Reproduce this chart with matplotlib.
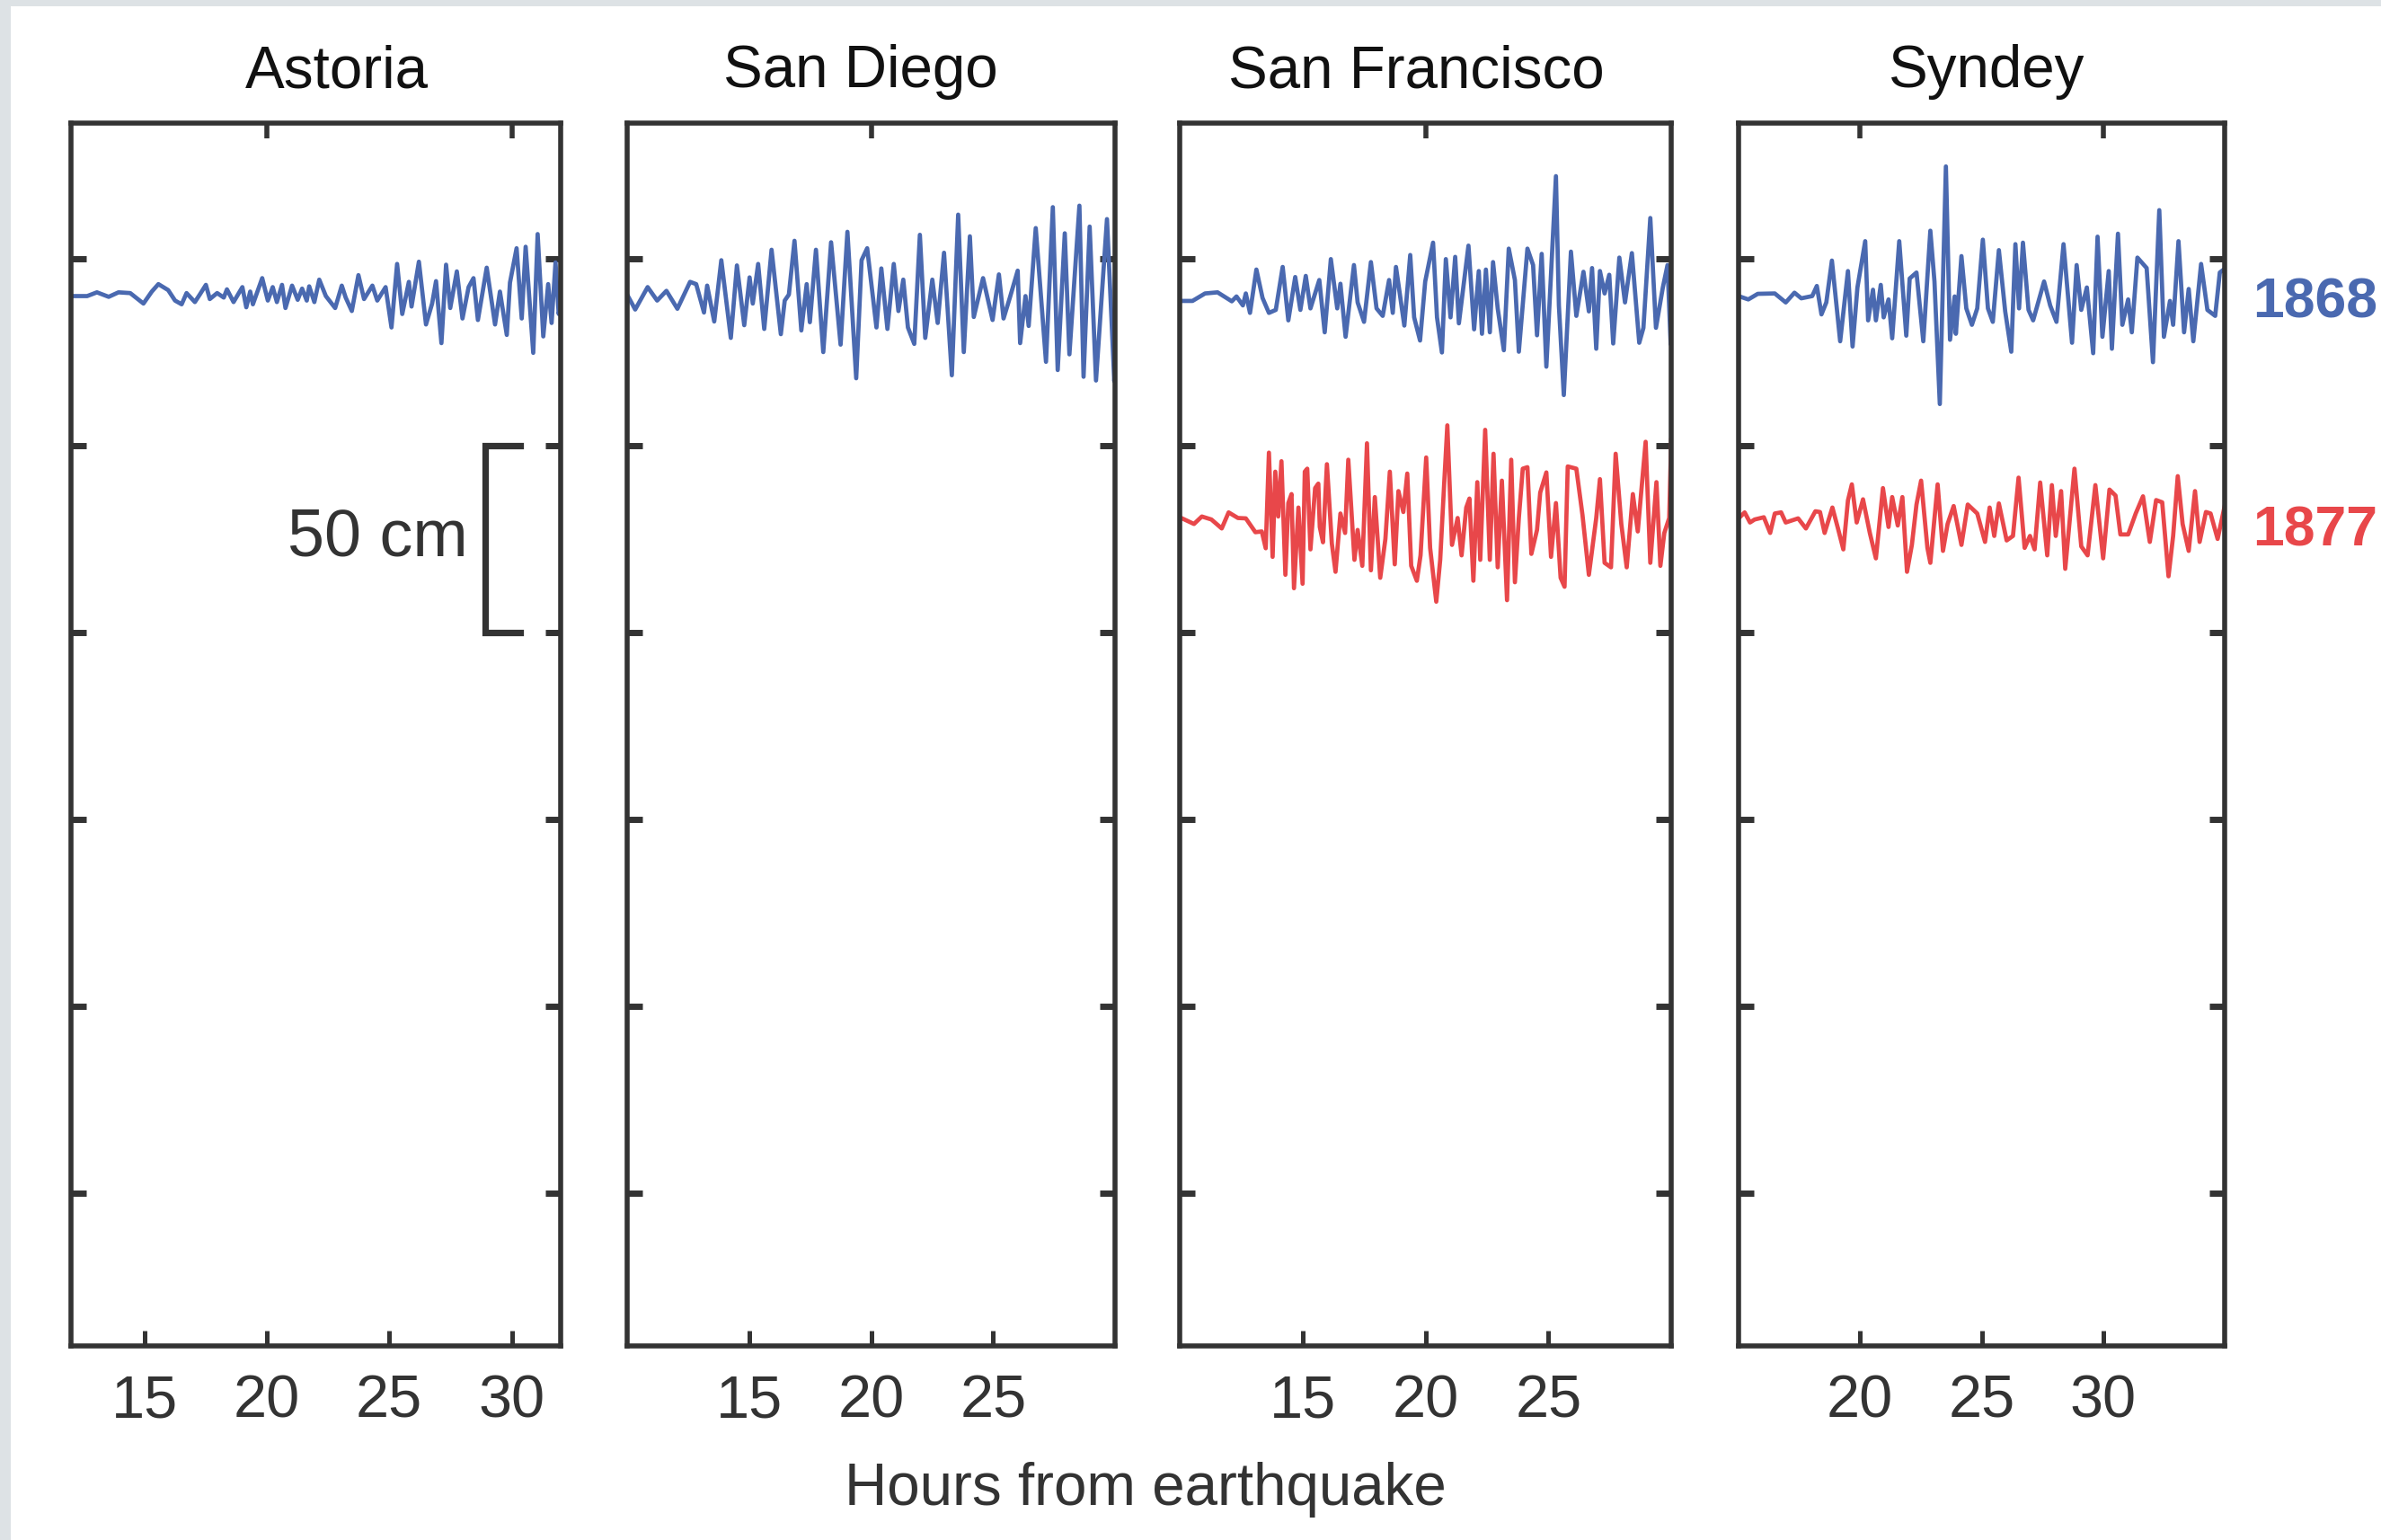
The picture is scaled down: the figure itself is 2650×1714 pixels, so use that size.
import numpy as np
import matplotlib
matplotlib.use('Agg')
import matplotlib.pyplot as plt
from matplotlib.patches import Rectangle

plt.rcParams['font.family'] = ['Liberation Sans', 'DejaVu Sans']

# ---- datos ----
stations = ['Astoria', 'San Diego', 'San Francisco', 'Syndey']
xlims = [(12, 32), (10, 30), (10, 30), (15, 35)]
xticks_bottom = [[15, 20, 25, 30], [15, 20, 25], [15, 20, 25], [20, 25, 30]]
xticks_top = [[20, 30], [20], [20], [20, 30]]
yticks = [0, -50, -100, -150, -200, -250]
years = ['1868', '1877']
offset_1868 = -10  # cm, posicion de cada registro en la pagina
offset_1877 = -70
scale_cm = 50

# (hora, nivel en cm) - 1868
astoria_1868 = [(12.0, 0), (12.66, 0), (13.06, 1), (13.54, -0.2), (13.94, 1), (14.42, 0.8), (14.96, -2),
                (15.30, 1.2), (15.57, 3.2), (15.97, 1.6), (16.25, -1.2), (16.52, -2.2), (16.72, 0.8),
                (17.06, -1.6), (17.26, 0.4), (17.51, 3), (17.67, -0.8), (17.97, 0.8), (18.24, -0.4),
                (18.37, 1.8), (18.64, -1.6), (19.0, 2.4), (19.16, -3), (19.32, 1.2), (19.43, -2.2),
                (19.81, 4.8), (20.04, -1.2), (20.24, 2.4), (20.41, -1.6), (20.62, 3), (20.76, -3.2),
                (21.03, 2.8), (21.26, -1), (21.44, 2), (21.63, -1.2), (21.73, 2.6), (21.94, -1.6),
                (22.14, 4.4), (22.41, 0), (22.79, -3.2), (23.06, 2.8), (23.22, -0.4), (23.47, -4),
                (23.74, 5.6), (23.97, -0.8), (24.31, 2.8), (24.51, -1.2), (24.85, 2.4), (25.09, -8.4),
                (25.32, 8.6), (25.53, -4.8), (25.8, 3.8), (25.91, -2.8), (26.21, 9.2), (26.5, -7.6),
                (26.75, -2), (26.91, 4), (27.13, -12.6), (27.32, 8.4), (27.49, -3.2), (27.76, 6.6),
                (27.99, -6), (28.24, 2.4), (28.44, 4.8), (28.62, -6.4), (28.98, 7.6), (29.32, -7.6),
                (29.52, 1.2), (29.8, -10.4), (29.93, 3.6), (30.2, 12.8), (30.41, -6), (30.57, 13.2),
                (30.88, -15.2), (31.06, 16.6), (31.29, -10.8), (31.49, 3.2), (31.63, -7.2), (31.79, 9),
                (31.92, -4.8), (32.0, -2)]

san_diego_1868 = [(10.0, 0.4), (10.33, -3.6), (10.84, 2.4), (11.23, -1.2), (11.61, 1.4), (12.06, -3.4),
                  (12.58, 3.8), (12.83, 3.2), (13.15, -4.4), (13.28, 2.8), (13.57, -6.8), (13.86, 9.6),
                  (14.25, -11.2), (14.5, 8.2), (14.8, -7.8), (15.02, 5), (15.15, -2), (15.37, 8.6),
                  (15.62, -8.8), (15.92, 12.4), (16.3, -10.2), (16.46, -1.2), (16.63, 0.4), (16.86, 14.8),
                  (17.14, -9.2), (17.36, 3.2), (17.49, -7), (17.74, 12.4), (18.04, -15), (18.36, 14.4),
                  (18.75, -13), (19.03, 17.2), (19.39, -22), (19.61, 9.6), (19.84, 12.8), (20.22, -8.4),
                  (20.42, 7.4), (20.67, -8.8), (20.93, 8.6), (21.12, -4), (21.32, 4.4), (21.51, -8.4),
                  (21.77, -12.8), (22.0, 16.4), (22.22, -11.2), (22.51, 4.4), (22.73, -7.2), (22.99, 11.6),
                  (23.31, -21.2), (23.57, 21.8), (23.8, -15), (24.05, 16), (24.21, -5.6), (24.59, 4.8),
                  (24.98, -6.4), (25.24, 5.8), (25.43, -6), (25.69, -0.4), (26.01, 6.8), (26.11, -12.6),
                  (26.33, 0), (26.46, -8), (26.75, 18.2), (27.17, -17.6), (27.45, 23.8), (27.65, -19.8),
                  (27.94, 16.8), (28.13, -15.6), (28.54, 24.2), (28.71, -21.6), (28.96, 18.6),
                  (29.22, -22.6), (29.67, 20.6), (29.97, -22.8), (30.0, -18.4)]

san_francisco_1868 = [(10.0, -1.3), (10.52, -1.3), (11.03, 0.7), (11.54, 1), (12.12, -1.4), (12.31, -0.1),
                      (12.57, -2.5), (12.69, 0.7), (12.86, -4.5), (13.12, 7.1), (13.37, -0.5), (13.63, -4.5),
                      (13.91, -3.7), (14.19, 7.8), (14.42, -6.5), (14.70, 5.1), (14.91, -3.7), (15.13, 5.4),
                      (15.32, -3.3), (15.68, 4.3), (15.90, -9.7), (16.15, 9.9), (16.41, -3.3), (16.54, 3.3),
                      (16.75, -10.9), (17.09, 8.3), (17.24, -1.7), (17.50, -6.9), (17.78, 9.1), (18.01, -3.3),
                      (18.26, -5.3), (18.52, 4.3), (18.67, -4.5), (18.80, 7.8), (19.14, -7.9), (19.38, 11),
                      (19.54, -5.7), (19.78, -11.9), (19.99, 3.9), (20.31, 14.3), (20.47, -5.7), (20.67, -15.1),
                      (20.83, 9.9), (21.02, -5.7), (21.21, 10.5), (21.36, -7.3), (21.75, 13.5), (21.98, -8.9),
                      (22.17, 6.7), (22.30, -10.1), (22.46, 7.1), (22.62, -9.7), (22.75, 9.1), (22.94, -3.3),
                      (23.19, -14.5), (23.39, 12.7), (23.64, 4.3), (23.80, -14.9), (24.15, 12.7), (24.38, 8.3),
                      (24.54, -10.5), (24.73, 11.3), (24.92, -18.9), (25.31, 32.1), (25.43, -2.5),
                      (25.63, -26.5), (25.92, 11.9), (26.14, -5.3), (26.43, 6.5), (26.65, -4.1), (26.78, 7.5),
                      (26.95, -14.1), (27.10, 6.7), (27.29, 0.7), (27.48, 5.7), (27.64, -12.7), (27.89, 10.3),
                      (28.12, -1.7), (28.40, 11.5), (28.70, -12.5), (28.87, -8.5), (29.15, 20.9), (29.38, -8.5),
                      (29.66, 2.3), (29.85, 8.3), (29.98, -12.9), (30.0, -5.5)]

sydney_1868 = [(15.0, 0), (15.40, -0.9), (15.79, 0.6), (16.49, 0.7), (16.94, -1.7), (17.3, 0.9), (17.58, -0.6),
               (18.03, 0), (18.22, 2.7), (18.41, -4.9), (18.61, -1.7), (18.84, 9.5), (19.18, -12.1), (19.5, 6.7),
               (19.69, -13.5), (19.89, 2.3), (20.21, 14.7), (20.33, -6.5), (20.53, 1.7), (20.65, -6.5),
               (20.85, 3), (20.97, -5.7), (21.17, -0.9), (21.32, -11.3), (21.61, 14.7), (21.9, -10.6),
               (22.04, 4.7), (22.32, 6.3), (22.6, -12.1), (22.89, 17.5), (23.06, 3.9), (23.28, -28.9),
               (23.53, 34.7), (23.7, -11.7), (23.89, -0.1), (23.94, -10.1), (24.17, 10.7), (24.37, -3.3),
               (24.6, -7.7), (24.82, -3.3), (25.05, 15.1), (25.26, -3.3), (25.46, -6.9), (25.71, 12.3),
               (25.97, -4.1), (26.22, -14.9), (26.39, 13.9), (26.54, -3.3), (26.7, 14.3), (26.93, -3.7),
               (27.12, -6.5), (27.57, 3.9), (27.82, -2.5), (28.08, -6.9), (28.37, 13.9), (28.72, -12.5),
               (28.91, 8.3), (29.10, -3.7), (29.33, 2.3), (29.59, -15.3), (29.77, 15.9), (29.97, -10.9),
               (30.23, 6.7), (30.36, -14.1), (30.61, 16.7), (30.79, -7.7), (31.03, -0.9), (31.18, -9.7),
               (31.41, 10.3), (31.79, 7.5), (32.05, -17.7), (32.31, 23), (32.5, -10.9), (32.75, -1.3),
               (32.88, -7.7), (33.1, 14.7), (33.33, -9.7), (33.52, 1.9), (33.71, -12.1), (34.03, 8.6),
               (34.29, -3.7), (34.61, -5.3), (34.8, 6.3), (35.0, 7.3)]

# (hora, nivel en cm) - 1877
san_francisco_1877 = [(10.0, 0.8), (10.58, -1), (10.9, 1), (11.29, 0.2), (11.71, -2.2), (11.99, 2.1), (12.37, 0.6),
                      (12.69, 0.5), (13.08, -3.2), (13.34, -3), (13.5, -7.5), (13.63, 18.1), (13.78, -9.8),
                      (13.89, 13), (14.01, 1), (14.14, 15.8), (14.30, -14.6), (14.42, 4.6), (14.55, 7),
                      (14.65, -18.2), (14.83, 3.4), (15.0, -17), (15.09, 13), (15.19, 13.8), (15.32, -7.8),
                      (15.51, 8.6), (15.64, 9.8), (15.70, -1.8), (15.83, -5.9), (15.99, 15), (16.19, -6.2),
                      (16.34, -13.8), (16.54, 1.8), (16.73, -3.4), (16.86, 16.2), (17.11, -10.6), (17.24, -2.6),
                      (17.43, -12.2), (17.62, 20.6), (17.78, -13.4), (17.94, 6.2), (18.16, -15.4), (18.37, -5),
                      (18.55, 13), (18.75, -11.8), (18.90, 7.8), (19.10, 2.2), (19.26, 12.5), (19.42, -12.2),
                      (19.65, -16.2), (19.8, -9.4), (20.03, 16.8), (20.19, -7.4), (20.44, -21.8), (20.60, -10.6),
                      (20.76, 9.6), (20.89, 25.4), (21.08, -6.6), (21.31, 0.6), (21.47, -9.4), (21.66, 3.4),
                      (21.79, 5.8), (21.95, -16.2), (22.11, 10.2), (22.23, -10.6), (22.43, 24.2), (22.62, -10.6),
                      (22.77, 17.8), (22.94, -12.6), (23.11, 10.6), (23.32, -21.4), (23.49, 16.2), (23.64, -16.6),
                      (23.8, 0.6), (23.96, 13.8), (24.15, 14.2), (24.31, -9), (24.54, -2.6), (24.67, 7.4),
                      (24.92, 12.8), (25.11, -9.8), (25.31, 4.6), (25.5, -15.4), (25.66, -17.8), (25.79, 14.4),
                      (26.14, 13.8), (26.39, 1.4), (26.65, -14.6), (26.95, 0.6), (27.1, 11), (27.29, -11.4),
                      (27.55, -12.6), (27.74, 17.8), (27.97, -1), (28.19, -12.6), (28.44, 7), (28.64, -3),
                      (28.96, 21), (29.15, -11.4), (29.4, 10.2), (29.56, -12.2), (29.72, -3.4), (29.92, 0.6),
                      (30.0, 21.4)]

sydney_1877 = [(15.0, 0.5), (15.25, 2.1), (15.47, -0.6), (15.66, 0.2), (16.04, 0.8), (16.3, -3.4), (16.49, 1.8),
               (16.75, 2.1), (16.94, -0.6), (17.45, 0.5), (17.77, -2.2), (18.16, 2.4), (18.35, 2.2),
               (18.54, -3.4), (18.86, 3.4), (19.09, -2.2), (19.31, -7.8), (19.5, 5.3), (19.66, 9.6),
               (19.86, -0.6), (20.12, 5.6), (20.4, -3.4), (20.65, -10.2), (20.94, 8.6), (21.17, -1.8),
               (21.32, 6.2), (21.55, -1.4), (21.74, 6.2), (21.93, -13.8), (22.13, -6.6), (22.32, 4.2),
               (22.51, 10.6), (22.77, -7.4), (22.89, -11.4), (23.19, 9.6), (23.41, -8.2), (23.6, -1),
               (23.85, 3.8), (24.17, -6.6), (24.43, 4.2), (24.82, 1.8), (25.14, -5.8), (25.33, 3.4),
               (25.52, -4.2), (25.71, 4.5), (26.03, -5.4), (26.29, -4.2), (26.52, 11.4), (26.77, -7.4),
               (26.99, -4.2), (27.18, -7.8), (27.41, 10.1), (27.7, -9.4), (27.89, 9.4), (28.05, -4.2),
               (28.27, 7.8), (28.44, -13), (28.82, 13.8), (29.1, -7), (29.36, -9.4), (29.68, 9.4),
               (30.0, -10.2), (30.26, 8.2), (30.51, 6.6), (30.71, -3.8), (31.03, -3.8), (31.34, 1.8),
               (31.64, 6.4), (31.92, -5.8), (32.18, 5.4), (32.43, 4.8), (32.69, -15), (32.88, -4.2),
               (33.07, 11.8), (33.27, -1), (33.52, -8.2), (33.78, 7.8), (33.97, -5.8), (34.23, 2.2),
               (34.42, 1.8), (34.71, -5), (35.0, 3.8)]

records_1868 = [astoria_1868, san_diego_1868, san_francisco_1868, sydney_1868]
records_1877 = [None, None, san_francisco_1877, sydney_1877]

# ---- estilo ----
blue = '#4A69B0'
red = '#E8474A'
ink = '#333333'
W, H = 2650, 1714
lefts = [79, 698, 1313, 1935]
rights = [624, 1241, 1860, 2476]
title_x = [375, 958, 1576, 2211]   # los titulos no estan del todo centrados
top_px, bottom_px = 137, 1498

fig = plt.figure(figsize=(W / 200, H / 200), dpi=200)
fig.patch.set_facecolor('#dde2e5')
fig.add_artist(Rectangle((12 / W, 0), 1, (H - 7) / H, transform=fig.transFigure,
                         facecolor='white', edgecolor='none', zorder=-1))

for i in range(4):
    ax = fig.add_axes([lefts[i] / W, 1 - bottom_px / H, (rights[i] - lefts[i]) / W,
                       (bottom_px - top_px) / H])
    ax.set_xlim(*xlims[i])
    ax.set_ylim(-291, 36.3)

    t, h = zip(*records_1868[i])
    ax.plot(t, offset_1868 + np.array(h), color=blue, lw=1.7)
    if records_1877[i] is not None:
        t, h = zip(*records_1877[i])
        ax.plot(t, offset_1877 + np.array(h), color=red, lw=1.7)

    ax.set_xticks(xticks_bottom[i])
    ax.set_yticks(yticks)
    ax.set_yticklabels([])
    ax.tick_params(axis='x', direction='in', length=6, width=1.8, pad=11.5,
                   labelsize=24, colors=ink)
    ax.tick_params(axis='y', direction='in', left=True, right=True, length=6,
                   width=2.5, colors=ink)
    for s in ax.spines.values():
        s.set_linewidth(2.0)
        s.set_color(ink)

    sec = ax.secondary_xaxis('top')
    sec.set_xticks(xticks_top[i])
    sec.set_xticklabels([])
    sec.tick_params(direction='in', length=6, width=2.0, colors=ink)
    for s in sec.spines.values():
        s.set_visible(False)

    fig.text(title_x[i] / W, 1 - 97 / H, stations[i], fontsize=23.6, color='#111111',
             ha='center', va='baseline')

    if i == 0:
        # barra de escala de 50 cm
        ax.plot([30.35, 28.92, 28.92, 30.35], [-scale_cm, -scale_cm, -2 * scale_cm, -2 * scale_cm],
                color=ink, lw=2.6, solid_joinstyle='miter', clip_on=False)
        ax.text(28.2, -79.5, '%d cm' % scale_cm, ha='right', va='baseline',
                fontsize=26.5, color=ink)

fig.text(2507 / W, 1 - 353 / H, years[0], color=blue, fontsize=22.5,
         fontweight='bold', ha='left', va='baseline')
fig.text(2507 / W, 1 - 608 / H, years[1], color=red, fontsize=22.5,
         fontweight='bold', ha='left', va='baseline')
fig.text(1275 / W, 1 - 1675 / H, 'Hours from earthquake', ha='center', va='baseline',
         fontsize=23.6, color=ink)

fig.savefig('out.png', dpi=200)
